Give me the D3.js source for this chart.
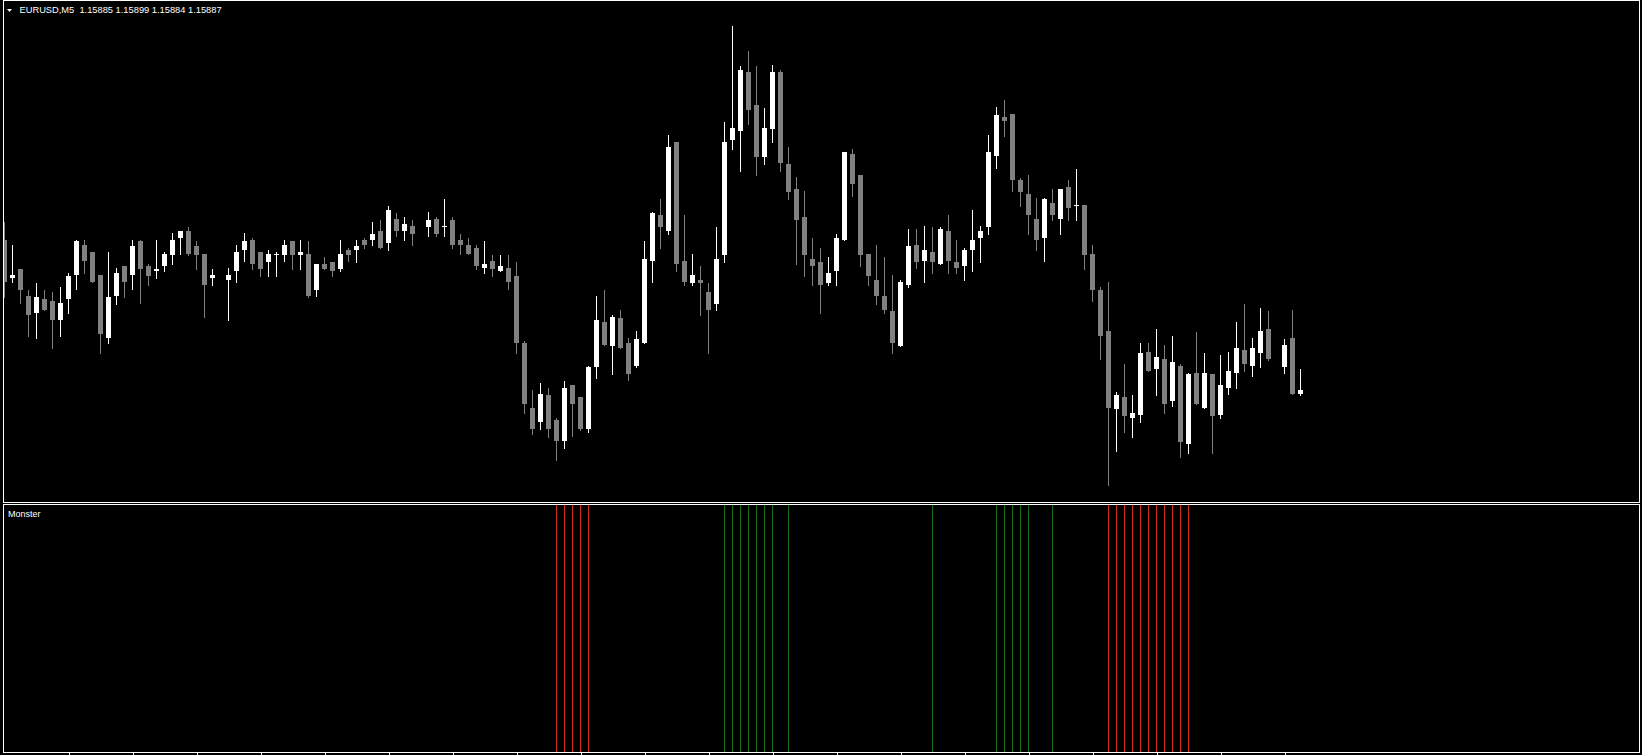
<!DOCTYPE html>
<html><head><meta charset="utf-8">
<script src="https://cdn.jsdelivr.net/npm/d3@7/dist/d3.min.js"></script>
<style>html,body{margin:0;padding:0;background:#000;overflow:hidden}</style>
</head><body>
<svg id="chart" width="1642" height="755"></svg>
<script>
// ---- data (EURUSD M5, one entry per bar; null = empty slot) ----
const symbol = "EURUSD,M5";
const lastQuote = ["1.15885", "1.15899", "1.15884", "1.15887"];
const indicatorName = "Monster";

const open = [1.15973,1.15951,1.15956,1.15941,1.15931,1.15939,1.15938,1.15927,1.15939,1.15953,
1.15970,1.15966,1.15953,1.15917,1.15941,1.15958,1.15953,1.15972,1.15958,1.15955,
1.15958,1.15964,1.15974,1.15978,1.15969,1.15965,1.15951,null,1.15950,1.15955,
1.15967,1.15973,1.15966,1.15960,1.15964,1.15964,1.15972,1.15964,1.15965,1.15944,
1.15959,1.15960,1.15956,1.15967,1.15967,1.15973,1.15973,1.15978,1.15971,1.15985,
1.15978,1.15981,null,1.15980,1.15985,1.15980,1.15984,1.15973,1.15970,1.15968,
1.15957,1.15961,1.15955,1.15957,1.15952,1.15914,1.15877,1.15869,1.15884,1.15870,
1.15858,1.15890,1.15883,1.15865,1.15900,1.15926,1.15912,1.15928,1.15914,1.15901,
1.15914,1.15961,1.15987,1.15978,1.16029,1.15961,1.15948,1.15950,1.15943,1.15936,
1.15964,1.16030,1.16035,1.16069,1.16050,1.16020,1.16036,1.16069,1.16016,1.16002,
1.15986,1.15962,1.15960,1.15948,1.15955,1.15973,1.16022,1.16010,1.15965,1.15950,
1.15941,1.15932,1.15912,1.15947,1.15970,1.15961,1.15966,1.15959,1.15978,1.15960,
1.15958,1.15967,1.15974,1.15980,1.16021,1.16043,1.16045,1.16007,1.15999,1.15985,
1.15974,1.15994,1.15985,1.16003,1.15992,1.15993,1.15965,1.15944,1.15921,1.15876,
1.15883,1.15871,1.15873,1.15909,1.15899,1.15905,1.15881,1.15901,1.15856,1.15897,
1.15877,1.15896,1.15873,1.15888,1.15897,1.15910,1.15901,1.15908,1.15922,null,
1.15900,1.15917,1.15885];
const high = [1.15983,1.15970,1.15956,1.15944,1.15948,1.15944,1.15943,1.15946,1.15954,1.15973,
1.15973,1.15966,1.15953,1.15966,1.15957,1.15958,1.15973,1.15973,1.15959,1.15973,
1.15966,1.15977,1.15978,1.15980,1.15972,1.15965,1.15956,null,1.15957,1.15970,
1.15977,1.15974,1.15966,1.15967,1.15966,1.15973,1.15972,1.15973,1.15972,1.15959,
1.15963,1.15960,1.15973,1.15968,1.15973,1.15974,1.15983,1.15984,1.15992,1.15988,
1.15986,1.15984,null,1.15989,1.15986,1.15996,1.15986,1.15976,1.15974,1.15970,
1.15972,1.15964,1.15964,1.15964,1.15960,1.15915,1.15887,1.15891,1.15888,1.15871,
1.15892,1.15890,1.15883,1.15901,1.15941,1.15944,1.15930,1.15933,1.15917,1.15921,
1.15972,1.15989,1.15996,1.16033,1.16029,1.15987,1.15965,1.15958,1.15948,1.15980,
1.16040,1.16095,1.16072,1.16081,1.16072,1.16048,1.16073,1.16070,1.16026,1.16009,
1.16001,1.15974,1.15968,1.15963,1.15976,1.16023,1.16025,1.16010,1.15965,1.15970,
1.15963,1.15953,1.15950,1.15979,1.15979,1.15981,1.15980,1.15980,1.15987,1.15973,
1.15968,1.15990,1.15981,1.16033,1.16049,1.16053,1.16045,1.16008,1.16010,1.15997,
1.15997,1.16002,1.16002,1.16007,1.16013,1.15993,1.15970,1.15946,1.15949,1.15886,
1.15902,1.15884,1.15914,1.15914,1.15922,1.15913,1.15918,1.15902,1.15897,1.15920,
1.15908,1.15896,1.15907,1.15909,1.15926,1.15936,1.15917,1.15934,1.15932,null,
1.15916,1.15933,1.15899];
const low = [1.15940,1.15949,1.15937,1.15918,1.15917,1.15933,1.15911,1.15918,1.15931,1.15945,
1.15954,1.15949,1.15908,1.15914,1.15936,1.15940,1.15945,1.15937,1.15947,1.15951,
1.15955,1.15959,1.15965,1.15964,1.15956,1.15929,1.15947,null,1.15927,1.15949,
1.15961,1.15956,1.15952,1.15952,1.15952,1.15961,1.15956,1.15956,1.15940,1.15941,
1.15956,1.15952,1.15955,1.15961,1.15960,1.15968,1.15970,1.15968,1.15967,1.15975,
1.15973,1.15970,null,1.15975,1.15975,1.15975,1.15968,1.15965,1.15965,1.15956,
1.15954,1.15952,1.15955,1.15945,1.15908,1.15874,1.15862,1.15865,1.15860,1.15847,
1.15854,1.15861,1.15864,1.15863,1.15894,1.15913,1.15896,1.15911,1.15893,1.15900,
1.15914,1.15949,1.15968,1.15976,1.15955,1.15947,1.15947,1.15930,1.15908,1.15933,
1.15960,1.16025,1.16012,1.16039,1.16010,1.16016,1.16029,1.16012,1.15996,1.15959,
1.15952,1.15947,1.15931,1.15947,1.15947,1.15973,1.15998,1.15958,1.15947,1.15936,
1.15931,1.15908,1.15912,1.15946,1.15957,1.15949,1.15954,1.15959,1.15954,1.15954,
1.15950,1.15955,1.15960,1.15976,1.16014,1.16032,1.16001,1.15992,1.15976,1.15967,
1.15961,1.15984,1.15976,1.15984,1.15984,1.15956,1.15938,1.15905,1.15833,1.15852,
1.15863,1.15860,1.15869,1.15898,1.15884,1.15874,1.15878,1.15849,1.15851,1.15879,
1.15877,1.15851,1.15871,1.15885,1.15888,1.15898,1.15895,1.15900,1.15904,null,
1.15897,1.15885,1.15884];
const close = [1.15949,1.15953,1.15944,1.15930,1.15940,1.15933,1.15927,1.15937,1.15952,1.15972,
1.15961,1.15949,1.15919,1.15940,1.15954,1.15949,1.15969,1.15956,1.15952,1.15956,
1.15965,1.15973,1.15978,1.15965,1.15964,1.15947,1.15953,null,1.15953,1.15966,
1.15972,1.15959,1.15956,1.15965,1.15965,1.15970,1.15964,1.15966,1.15941,1.15959,
1.15956,1.15955,1.15965,1.15964,1.15969,1.15970,1.15976,1.15968,1.15990,1.15978,
1.15982,1.15976,null,1.15984,1.15976,1.15981,1.15970,1.15970,1.15965,1.15958,
1.15959,1.15956,1.15958,1.15949,1.15914,1.15879,1.15865,1.15885,1.15865,1.15858,
1.15888,1.15879,1.15865,1.15900,1.15927,1.15913,1.15929,1.15911,1.15896,1.15916,
1.15962,1.15988,1.15980,1.16026,1.15959,1.15949,1.15953,1.15948,1.15933,1.15962,
1.16029,1.16037,1.16070,1.16047,1.16020,1.16037,1.16069,1.16017,1.16000,1.15984,
1.15964,1.15958,1.15947,1.15954,1.15974,1.16023,1.16005,1.15964,1.15952,1.15941,
1.15933,1.15914,1.15949,1.15969,1.15960,1.15967,1.15960,1.15979,1.15961,1.15957,
1.15967,1.15973,1.15978,1.16023,1.16044,1.16041,1.16007,1.16000,1.15987,1.15973,
1.15996,1.15987,1.16002,1.15991,1.15993,1.15964,1.15944,1.15918,1.15877,1.15884,
1.15872,1.15874,1.15908,1.15898,1.15906,1.15879,1.15903,1.15857,1.15896,1.15879,
1.15897,1.15872,1.15890,1.15898,1.15911,1.15902,1.15911,1.15921,1.15905,null,
1.15913,1.15885,1.15887];

// Monster indicator histogram buffers (bar indices with a signal)
const monsterSellBars = [69,70,71,72,73,138,139,140,141,142,143,144,145,146,147,148];
const monsterBuyBars  = [90,91,92,93,94,95,96,98,116,124,125,126,127,128,131];
const timeTickBars = [8,16,24,32,40,48,56,64,72,80,88,96,104,112,120,128,136,144,152,160];

// ---- drawing ----
const W = 1642, H = 755;
const svg = d3.select("#chart");
svg.append("rect").attr("width", W).attr("height", H).attr("fill", "#000");

const bars = d3.range(open.length).map(i => ({i, o: open[i], h: high[i], l: low[i], c: close[i]}))
  .filter(d => d.o !== null);

const x = d3.scaleLinear().domain([0, 162]).range([4.5, 1300.5]);
const pxPerPoint = 1.75;
const anchor = 1.15887, anchorY = 390;
const yMain = d3.scaleLinear()
  .domain([anchor - (502 - anchorY) / pxPerPoint / 100000, anchor + anchorY / pxPerPoint / 100000])
  .range([502, 0]);
const ySub = d3.scaleLinear().domain([0, 1]).range([752, 505]);
const px = i => Math.round(x(i) - 0.5) + 0.5;

const defs = svg.append("defs");
defs.append("clipPath").attr("id", "mainClip").append("rect")
  .attr("x", 4).attr("y", 1).attr("width", 1635).attr("height", 501);
defs.append("clipPath").attr("id", "subClip").append("rect")
  .attr("x", 4).attr("y", 505).attr("width", 1635).attr("height", 247);

const bull = "#ffffff", bear = "#808080";
const g = svg.append("g").attr("clip-path", "url(#mainClip)").attr("shape-rendering", "crispEdges");
const cg = g.selectAll("g.c").data(bars).join("g").attr("class", "c");
cg.append("line")
  .attr("x1", d => px(d.i)).attr("x2", d => px(d.i))
  .attr("y1", d => Math.round(yMain(d.h))).attr("y2", d => Math.round(yMain(d.l)) + 1)
  .attr("stroke", d => d.c >= d.o ? bull : bear).attr("stroke-width", 1);
cg.append("rect")
  .attr("x", d => px(d.i) - 2.5).attr("width", 5)
  .attr("y", d => Math.round(yMain(Math.max(d.o, d.c))))
  .attr("height", d => Math.max(1, Math.round(yMain(Math.min(d.o, d.c))) - Math.round(yMain(Math.max(d.o, d.c)))))
  .attr("fill", d => d.c >= d.o ? bull : bear);

// indicator sub-window
const sg = svg.append("g").attr("clip-path", "url(#subClip)").attr("shape-rendering", "crispEdges");
const sigs = monsterSellBars.map(i => ({i, v: 1, col: "#d42a1e"}))
  .concat(monsterBuyBars.map(i => ({i, v: 1, col: "#1b6e1b"})));
sg.selectAll("line.s").data(sigs).join("line").attr("class", "s")
  .attr("x1", d => px(d.i)).attr("x2", d => px(d.i))
  .attr("y1", ySub(0)).attr("y2", d => ySub(d.v))
  .attr("stroke", d => d.col).attr("stroke-width", 1);

// frames
const fr = svg.append("g").attr("fill", "none").attr("stroke", "#fff").attr("shape-rendering", "crispEdges");
fr.append("rect").attr("x", 3.5).attr("y", 0.5).attr("width", 1636).attr("height", 502);
fr.append("rect").attr("x", 3.5).attr("y", 504.5).attr("width", 1636).attr("height", 248);

// time axis ticks (labels fall below the visible area)
const ax = svg.append("g").attr("transform", "translate(0,753)")
  .call(d3.axisBottom(x).tickValues(timeTickBars).tickSize(3).tickFormat(""));
ax.select(".domain").remove();
ax.selectAll("line").attr("stroke", "#fff").attr("shape-rendering", "crispEdges");

// labels
svg.append("path").attr("d", "M7,9 L12,9 L9.5,12 Z").attr("fill", "#fff");
svg.append("text").attr("x", 19.5).attr("y", 12.5)
  .attr("font-family", "'Liberation Sans', Arial, sans-serif").attr("font-size", "9.3px").attr("fill", "#fff")
  .attr("xml:space", "preserve")
  .text(symbol + "  " + lastQuote.join(" "));
svg.append("text").attr("x", 8).attr("y", 517)
  .attr("font-family", "'Liberation Sans', Arial, sans-serif").attr("font-size", "9px").attr("fill", "#fff")
  .text(indicatorName);
</script>
</body></html>
